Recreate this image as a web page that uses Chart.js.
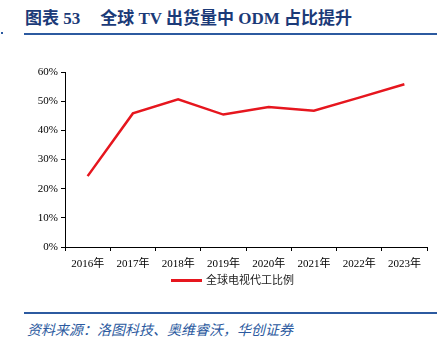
<!DOCTYPE html>
<html>
<head>
<meta charset="utf-8">
<script src="https://cdn.jsdelivr.net/npm/chart.js@4/dist/chart.umd.min.js"></script>
<style>
  body { margin:0; background:#fff; width:443px; height:346px; position:relative; overflow:hidden; }
  #title { position:absolute; left:25px; top:4px; font-family:"Liberation Serif","Noto Sans CJK SC",serif; font-weight:bold; font-size:17px; color:#1b3a78; white-space:nowrap; }
  #title .gap { display:inline-block; width:20px; }
  .rule { position:absolute; left:24px; width:413px; height:2px; background:#2c5aa0; }
  #mark { position:absolute; left:1px; top:32px; width:2px; height:2px; background:#2c5aa0; }
  #src { position:absolute; left:27px; top:319px; font-family:"Noto Sans CJK SC",sans-serif; font-style:italic; font-size:14px; color:#2c5aa0; white-space:nowrap; }
  #box { position:absolute; left:0; top:55px; width:443px; height:225px; }
  #legend { position:absolute; left:171px; top:271px; font-family:"Noto Sans CJK SC",sans-serif; font-size:11px; color:#222; white-space:nowrap; line-height:16px; }
  #legend i { display:inline-block; width:31px; height:3px; vertical-align:middle; margin-right:4px; position:relative; top:-1px; }
</style>
</head>
<body>
<div id="title">图表 53<span class="gap"></span>全球 TV 出货量中 ODM 占比提升</div>
<div class="rule" style="top:33px"></div>
<div id="mark"></div>
<div id="box"><canvas id="chart" width="443" height="225"></canvas></div>
<div id="legend"></div>
<div class="rule" style="top:312px"></div>
<div id="src">资料来源：洛图科技、奥维睿沃，华创证券</div>
<script>
const years = ['2016年','2017年','2018年','2019年','2020年','2021年','2022年','2023年'];
const odmShare = [24.3, 45.8, 50.6, 45.4, 48.0, 46.7, 51.2, 55.8];
const seriesName = '全球电视代工比例';
const lineColor = '#e6161e';

const tickFont = { family: '"Liberation Serif","Noto Sans CJK SC",serif', size: 11 };

const chart = new Chart(document.getElementById('chart'), {
  type: 'line',
  data: {
    labels: years,
    datasets: [{
      label: seriesName,
      data: odmShare,
      borderColor: lineColor,
      backgroundColor: lineColor,
      borderWidth: 2.5,
      pointRadius: 0,
      tension: 0
    }]
  },
  options: {
    responsive: false,
    animation: false,
    layout: { padding: { left: 0, right: 16, top: 17, bottom: 0 } },
    plugins: {
      legend: { display: false },
      tooltip: { enabled: false }
    },
    scales: {
      x: {
        offset: true,
        grid: { offset: true, drawOnChartArea: false, drawTicks: true, tickLength: 4, color: '#000' },
        border: { color: '#000', width: 1 },
        ticks: { color: '#000', font: tickFont, maxRotation: 0, padding: 7 },
        afterFit(scale) { scale.height = 33; }
      },
      y: {
        min: 0, max: 60,
        grid: { drawOnChartArea: false, drawTicks: true, tickLength: 4, color: '#000' },
        border: { color: '#000', width: 1 },
        ticks: { stepSize: 10, color: '#000', font: tickFont, padding: 3, callback: v => v + '%' },
        afterFit(scale) { scale.width = 65; }
      }
    }
  }
});

// legend built from the dataset
const ds = chart.data.datasets[0];
const lg = document.getElementById('legend');
const sw = document.createElement('i');
sw.style.background = ds.borderColor;
lg.appendChild(sw);
lg.appendChild(document.createTextNode(ds.label));
</script>
</body>
</html>
